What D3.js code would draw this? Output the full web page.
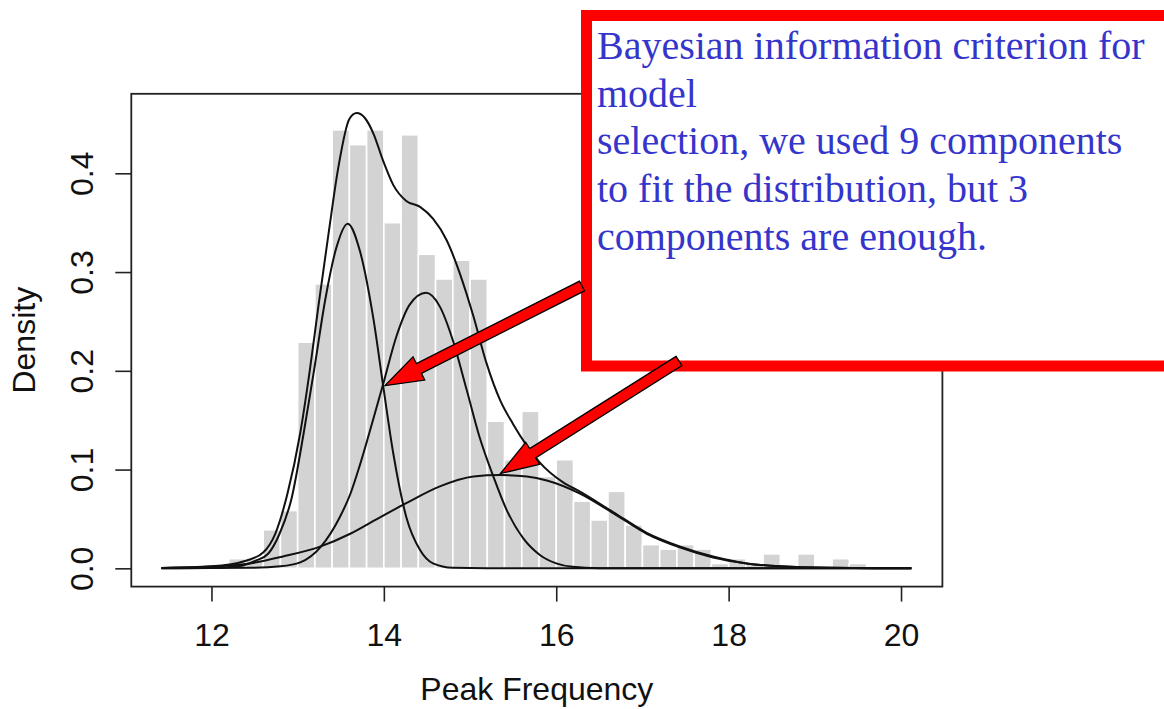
<!DOCTYPE html>
<html>
<head>
<meta charset="utf-8">
<script src="https://cdn.jsdelivr.net/npm/d3@7"></script>
<style>
  html, body { margin: 0; padding: 0; background: #ffffff; }
  svg { display: block; }
</style>
</head>
<body>
<svg id="chart" width="1164" height="709"></svg>
<script>
// Histogram of peak frequency: left edge of each 0.2-wide bin and its density
const binLeft = [12.2, 12.4, 12.6, 12.8, 13.0, 13.2, 13.4, 13.6, 13.8, 14.0,
                 14.2, 14.4, 14.6, 14.8, 15.0, 15.2, 15.4, 15.6, 15.8, 16.0,
                 16.2, 16.4, 16.6, 16.8, 17.0, 17.2, 17.4, 17.6, 17.8, 18.0,
                 18.2, 18.4, 18.6, 18.8, 19.0, 19.2, 19.4];
const binDensity = [0.0098, 0.0098, 0.039, 0.0585, 0.229, 0.288, 0.444, 0.429, 0.444, 0.350,
                    0.439, 0.318, 0.293, 0.312, 0.293, 0.149, 0.110, 0.159, 0.093, 0.110,
                    0.068, 0.049, 0.078, 0.044, 0.024, 0.0195, 0.024, 0.0195, 0.0049, 0.0098,
                    0.0049, 0.0146, 0, 0.0146, 0, 0.0098, 0.0049];
const binWidth = 0.2;

// Fitted mixture density and its three weighted components, [x, density]
const totalCurve = [[11.42,0.0004],[12.0,0.002],[12.41,0.008],[12.6,0.016],[12.74,0.035],[12.88,0.075],
  [13.03,0.137],[13.14,0.2],[13.24,0.265],[13.36,0.34],[13.47,0.405],[13.6,0.455],[13.685,0.461],
  [13.78,0.456],[13.88,0.44],[13.99,0.413],[14.11,0.388],[14.26,0.372],[14.42,0.366],[14.57,0.354],
  [14.73,0.332],[14.88,0.299],[15.04,0.255],[15.19,0.208],[15.35,0.170],[15.50,0.146],[15.66,0.124],
  [15.81,0.107],[16.08,0.087],[16.27,0.078],[16.66,0.057],[17.05,0.036],[17.44,0.022],[17.82,0.012],
  [18.21,0.005],[18.6,0.002],[19.2,0.0005],[20.12,0]];
const component1 = [[11.42,0],[12.0,0.0003],[12.3,0.002],[12.52,0.008],[12.66,0.015],[12.79,0.035],
  [12.93,0.071],[13.07,0.137],[13.2,0.206],[13.32,0.272],[13.45,0.325],[13.58,0.349],[13.72,0.322],
  [13.88,0.252],[13.99,0.186],[14.11,0.116],[14.26,0.052],[14.42,0.0185],[14.57,0.005],[14.8,0.0005],
  [15.2,0],[20.12,0]];
const component2 = [[11.42,0],[12.45,0.0005],[12.8,0.002],[13.03,0.006],[13.27,0.022],[13.49,0.052],
  [13.61,0.075],[13.72,0.104],[13.88,0.152],[13.99,0.186],[14.15,0.236],[14.30,0.267],[14.49,0.279],
  [14.65,0.265],[14.80,0.231],[14.96,0.181],[15.11,0.133],[15.27,0.093],[15.42,0.060],[15.62,0.030],
  [15.81,0.0135],[16.0,0.005],[16.19,0.0015],[16.5,0.0002],[17.0,0],[20.12,0]];
const component3 = [[11.42,0.0004],[12.0,0.0018],[12.45,0.005],[12.83,0.012],[13.26,0.022],[13.61,0.035],
  [13.88,0.048],[14.26,0.066],[14.65,0.083],[15.04,0.093],[15.35,0.0945],[15.66,0.093],[15.89,0.089],
  [16.27,0.076],[16.66,0.056],[17.05,0.035],[17.44,0.021],[17.82,0.011],[18.21,0.005],[18.6,0.002],
  [19.2,0.0005],[20.12,0]];

// Axis ticks
const xTicks = [12, 14, 16, 18, 20];
const yTicks = [0.0, 0.1, 0.2, 0.3, 0.4];

// Where the two callout arrows point: the crossings of neighbouring components
const arrowTips = [[14.013, 0.185], [15.353, 0.096]];

const noteLines = [
  "Bayesian information criterion for",
  "model",
  "selection, we used 9 components",
  "to fit the distribution, but 3",
  "components are enough."
];

const svg = d3.select("#chart");
const sansFont = "'Liberation Sans', Arial, Helvetica, sans-serif";

const x = d3.scaleLinear().domain([11.07, 20.48]).range([131.3, 942.4]);
const y = d3.scaleLinear().domain([-0.0185, 0.4805]).range([586.6, 93.8]);

const [plotLeft, plotRight] = x.range();
const [plotBottom, plotTop] = y.range();

// Bars
svg.append("g")
  .selectAll("rect")
  .data(binLeft.map((b, i) => ({ b, d: binDensity[i] })).filter(o => o.d > 0))
  .join("rect")
  .attr("x", o => x(o.b))
  .attr("y", o => y(o.d))
  .attr("width", o => x(o.b + binWidth) - x(o.b))
  .attr("height", o => y(0) - y(o.d))
  .attr("fill", "#d3d3d3")
  .attr("stroke", "#ffffff")
  .attr("stroke-width", 1.6);

// Density curves
const line = d3.line()
  .x(p => x(p[0]))
  .y(p => y(p[1]))
  .curve(d3.curveMonotoneX);

svg.append("g")
  .selectAll("path")
  .data([component3, component2, component1, totalCurve])
  .join("path")
  .attr("d", line)
  .attr("fill", "none")
  .attr("stroke", "#111111")
  .attr("stroke-width", 2)
  .attr("stroke-linejoin", "round");

// Plot frame
svg.append("rect")
  .attr("x", plotLeft).attr("y", plotTop)
  .attr("width", plotRight - plotLeft).attr("height", plotBottom - plotTop)
  .attr("fill", "none")
  .attr("stroke", "#222222")
  .attr("stroke-width", 1.8);

// X axis
const xAxis = svg.append("g")
  .attr("transform", `translate(0,${plotBottom})`)
  .call(d3.axisBottom(x).tickValues(xTicks).tickSize(15).tickPadding(22).tickFormat(d3.format("d")));
xAxis.select(".domain").remove();
xAxis.selectAll("line").attr("stroke", "#222222").attr("stroke-width", 1.6);
xAxis.selectAll("text")
  .attr("font-family", sansFont).attr("font-size", 32).attr("fill", "#111111");

// Y axis with labels turned to read upward
const yAxis = svg.append("g")
  .attr("transform", `translate(${plotLeft},0)`)
  .call(d3.axisLeft(y).tickValues(yTicks).tickSize(16).tickFormat(d3.format(".1f")));
yAxis.select(".domain").remove();
yAxis.selectAll("line").attr("stroke", "#222222").attr("stroke-width", 1.6);
yAxis.selectAll("text")
  .attr("x", null).attr("dy", null)
  .attr("text-anchor", "middle")
  .attr("transform", "translate(-38,0) rotate(-90)")
  .attr("font-family", sansFont).attr("font-size", 32).attr("fill", "#111111");

// Axis titles
svg.append("text")
  .attr("x", (plotLeft + plotRight) / 2).attr("y", 700)
  .attr("text-anchor", "middle")
  .attr("font-family", sansFont).attr("font-size", 32).attr("fill", "#111111")
  .text("Peak Frequency");
svg.append("text")
  .attr("transform", `translate(35,${(plotTop + plotBottom) / 2}) rotate(-90)`)
  .attr("text-anchor", "middle")
  .attr("font-family", sansFont).attr("font-size", 32).attr("fill", "#111111")
  .text("Density");

// Callout box
const note = svg.append("g");
note.append("rect")
  .attr("x", 586.5).attr("y", 15.5)
  .attr("width", 620).attr("height", 350.5)
  .attr("fill", "#ffffff")
  .attr("stroke", "#ff0000")
  .attr("stroke-width", 11);
note.append("text")
  .attr("font-family", "'Liberation Serif', 'Times New Roman', serif")
  .attr("font-size", 40)
  .attr("fill", "#3535cc")
  .selectAll("tspan")
  .data(noteLines)
  .join("tspan")
  .attr("x", 597)
  .attr("y", (d, i) => 59 + i * 47.7)
  .text(d => d);

// Block arrows from the callout box to the component crossings
function arrowPath(tail, tip, shaftHalf, headHalf, headLen) {
  const dx = tip[0] - tail[0], dy = tip[1] - tail[1];
  const len = Math.hypot(dx, dy);
  const ux = dx / len, uy = dy / len;
  const nx = -uy, ny = ux;
  const bx = tip[0] - ux * headLen, by = tip[1] - uy * headLen;
  const pts = [
    [tail[0] + nx * shaftHalf, tail[1] + ny * shaftHalf],
    [bx + nx * shaftHalf, by + ny * shaftHalf],
    [bx + nx * headHalf, by + ny * headHalf],
    tip,
    [bx - nx * headHalf, by - ny * headHalf],
    [bx - nx * shaftHalf, by - ny * shaftHalf],
    [tail[0] - nx * shaftHalf, tail[1] - ny * shaftHalf]
  ];
  return d3.line()(pts) + "Z";
}
const arrowTails = [[582, 286], [679, 361]];
svg.append("g")
  .selectAll("path")
  .data(arrowTips)
  .join("path")
  .attr("d", (t, i) => arrowPath(arrowTails[i], [x(t[0]), y(t[1])], 5.5, 13, 38))
  .attr("fill", "#ff0000")
  .attr("stroke", "#000000")
  .attr("stroke-width", 1.3)
  .attr("stroke-linejoin", "miter");
</script>
</body>
</html>
